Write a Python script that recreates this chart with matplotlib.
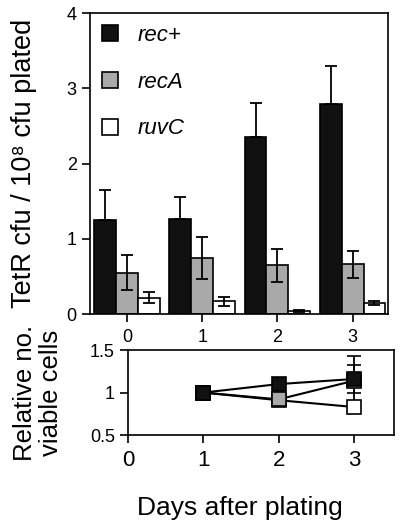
import numpy as np
import matplotlib
matplotlib.use("Agg")
import matplotlib.pyplot as plt

plt.rcParams['font.family'] = ['Liberation Sans', 'DejaVu Sans']

days = [0, 1, 2, 3]
strains = ["rec+", "recA", "ruvC"]
colors = ["#111111", "#a9a9a9", "#ffffff"]

# TetR cfu / 10^8 cfu plated
tet_mean = {
    "rec+": [1.25, 1.26, 2.35, 2.79],
    "recA": [0.55, 0.75, 0.65, 0.66],
    "ruvC": [0.22, 0.17, 0.04, 0.15],
}
tet_err = {
    "rec+": [0.40, 0.30, 0.45, 0.50],
    "recA": [0.23, 0.28, 0.22, 0.18],
    "ruvC": [0.07, 0.06, 0.01, 0.03],
}

# relative number of viable cells
via_days = [1, 2, 3]
via_mean = {
    "ruvC": [1.0, 0.91, 0.83],
    "recA": [1.0, 0.92, 1.14],
    "rec+": [1.0, 1.10, 1.16],
}
via_err = {
    "ruvC": [0.0, 0.02, 0.02],
    "recA": [0.0, 0.07, 0.29],
    "rec+": [0.0, 0.04, 0.17],
}

fig = plt.figure(figsize=(4.0, 5.21), dpi=100)

# top bar chart
ax = fig.add_axes([0.225, 0.397, 0.745, 0.578])
w = 0.29
x = np.array(days)
for i, s in enumerate(strains):
    err = tet_err[s]
    if s == "rec+":
        # lower half hidden inside the black bar
        err = [np.zeros(len(err)), err]
    ax.bar(x + (i - 1) * w, tet_mean[s], w, color=colors[i], edgecolor="black",
           linewidth=1.2, yerr=err, capsize=4,
           error_kw=dict(elinewidth=1.3, capthick=1.3, ecolor="black"), label=s, zorder=2)
ax.set_xlim(-0.49, 3.47)
ax.set_ylim(0, 4)
ax.set_yticks([0, 1, 2, 3, 4])
ax.set_xticks(days)
ax.tick_params(direction="out", length=6, width=1.2, labelsize=13)
ax.tick_params(axis="x", pad=5)
for sp in ax.spines.values():
    sp.set_linewidth(1.2)
ax.set_ylabel("TetR cfu / 10⁸ cfu plated", fontsize=19.5)
ax.yaxis.set_label_coords(-0.178, 0.5)
leg = ax.legend(loc="upper left", frameon=False, fontsize=16, handlelength=0.73,
                handleheight=0.73, labelspacing=1.15, handletextpad=0.85,
                borderpad=0, borderaxespad=0.55)
for t in leg.get_texts():
    t.set_fontstyle("italic")

# bottom viability chart
ax2 = fig.add_axes([0.32, 0.165, 0.665, 0.163])
for s in ["ruvC", "recA", "rec+"]:
    i = strains.index(s)
    ax2.errorbar(via_days, via_mean[s], yerr=via_err[s], color="black", marker="s",
                 markersize=10, markerfacecolor=colors[i], markeredgecolor="black",
                 markeredgewidth=1.2, linewidth=1.5, capsize=5, elinewidth=1.3,
                 capthick=1.3)
ax2.set_xlim(0, 3.53)
ax2.set_ylim(0.5, 1.5)
ax2.set_yticks([0.5, 1, 1.5])
ax2.set_yticklabels(["0.5", "1", "1.5"])
ax2.set_xticks(days)
ax2.tick_params(direction="out", length=6, width=1.2, labelsize=13)
ax2.tick_params(axis="x", labelsize=16, pad=5)
for sp in ax2.spines.values():
    sp.set_linewidth(1.2)
ax2.set_ylabel("Relative no.\nviable cells", fontsize=18.5, linespacing=1.1)
ax2.yaxis.set_label_coords(-0.245, 0.5)
ax2.set_xlabel("Days after plating", fontsize=19)
ax2.xaxis.set_label_coords(0.42, -0.72)

fig.savefig("out.png", dpi=100)
